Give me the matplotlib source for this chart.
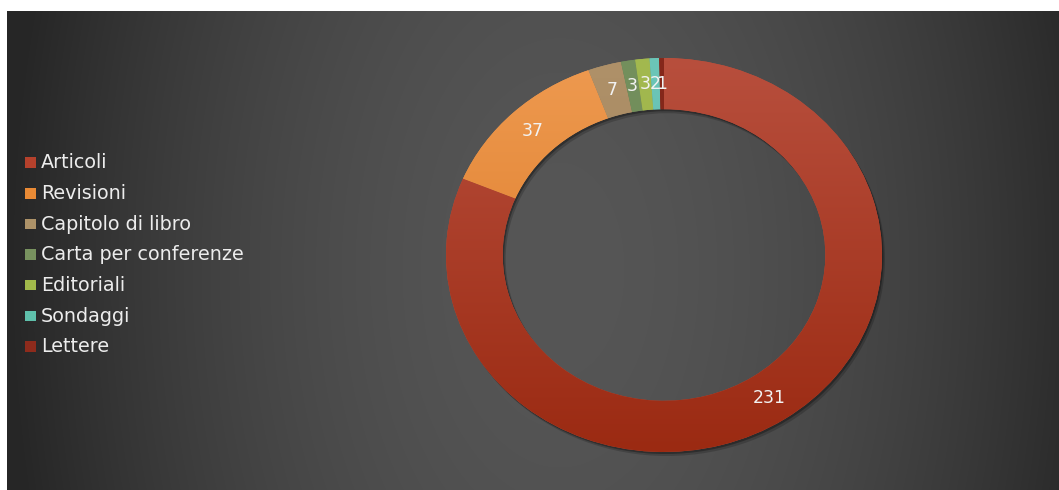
import numpy as np
import matplotlib
matplotlib.use("Agg")
import matplotlib.pyplot as plt
from matplotlib.colors import LinearSegmentedColormap
from matplotlib.patches import Wedge, Rectangle
from matplotlib import transforms

# Publication types and counts
categories = ["Articoli", "Revisioni", "Capitolo di libro", "Carta per conferenze",
              "Editoriali", "Sondaggi", "Lettere"]
values = [231, 37, 7, 3, 3, 2, 1]

# slice shading: (top colour, bottom colour), legend uses the mid tone
shades = [("#b84f3d", "#9b2a12"),
          ("#ee9a50", "#d9741f"),
          ("#af9169", "#9a7c55"),
          ("#74905d", "#678253"),
          ("#a3b94f", "#95ab45"),
          ("#6cc6b8", "#58b5a5"),
          ("#86281b", "#7a2216")]
legend_colors = ["#b5412c", "#e98a35", "#ad9268", "#78925f", "#a2ba4b", "#5fc0ab", "#8e2b1c"]

W, H = 1059, 490
fig = plt.figure(figsize=(W / 100, H / 100), dpi=100, facecolor="white")

# dark radial background panel
x0, y0 = 7, 11
bg = fig.add_axes([x0 / W, 0, 1 - x0 / W, 1 - y0 / H])
xs = np.arange(x0, W) + 0.5
ys = np.arange(y0, H) + 0.5
X, Y = np.meshgrid(xs, ys)
d = np.sqrt(((X - 560) / 540) ** 2 + ((Y - 270) / 900) ** 2)
lum = np.clip(86 - 46 * d ** 1.8, 38, 255) / 255
bg.imshow(np.dstack([lum, lum, lum]), aspect="auto", interpolation="bilinear")
bg.set_axis_off()

# donut axes: centre (664, 255) px, radii 218 x 197 px
cx, cy, rx, ry = 664, 255, 218, 197
lim = 1.12
ax = fig.add_axes([(cx - lim * rx) / W, (H - cy - lim * ry) / H,
                   2 * lim * rx / W, 2 * lim * ry / H])
ax.patch.set_alpha(0)

ring = 0.26
total = sum(values)
wedges, texts, autotexts = ax.pie(
    values, radius=1, startangle=90, counterclock=False,
    colors=[c[0] for c in shades],
    wedgeprops=dict(width=ring, linewidth=0),
    autopct=lambda p: f"{round(p * total / 100)}", pctdistance=0.87,
    textprops=dict(color="#f2f2f2", fontsize=12.5))

# soft shadow under the ring
for off, a in [((3, -4), 0.18), ((1.5, -2), 0.3)]:
    tr = transforms.offset_copy(ax.transData, fig=fig, x=off[0], y=off[1], units="dots")
    ax.add_patch(Wedge((0, 0), 1.0, 0, 360, width=ring, transform=tr,
                       facecolor="black", alpha=a, linewidth=0, zorder=0.5))

# vertical shading inside each slice
grad = np.linspace(0, 1, 256).reshape(-1, 1)
for w, (top, bot) in zip(wedges, shades):
    w.set_zorder(1)
    cmap = LinearSegmentedColormap.from_list("s", [top, bot])
    im = ax.imshow(grad, cmap=cmap, extent=(-1, 1, -1, 1), aspect="auto",
                   origin="upper", zorder=1.5)
    im.set_clip_path(w)
for t in autotexts:
    t.set_zorder(3)

ax.set_aspect("auto")
ax.set_xlim(-lim, lim)
ax.set_ylim(-lim, lim)
ax.set_axis_off()

# legend on the left
for i, (name, col) in enumerate(zip(categories, legend_colors)):
    ty = 163 + i * 30.6
    fig.patches.append(Rectangle((25 / W, 1 - (ty + 5) / H), 10.5 / W, 10.5 / H,
                                 transform=fig.transFigure, facecolor=col, linewidth=0))
    fig.text(41 / W, 1 - ty / H, name, color="#ececec", fontsize=13.8,
             ha="left", va="center")

fig.savefig("out.png", dpi=100, facecolor="white")
